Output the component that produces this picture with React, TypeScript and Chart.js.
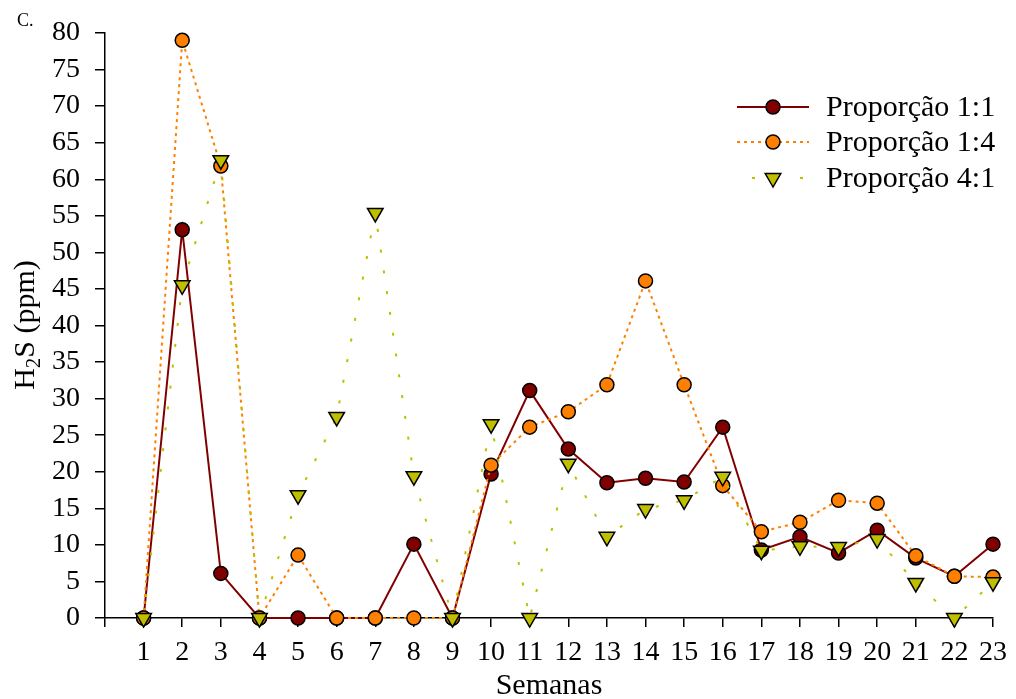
import React, { useEffect, useRef } from "react";
import { Chart, registerables } from "chart.js";

Chart.register(...registerables);

const weeks = [1, 2, 3, 4, 5, 6, 7, 8, 9, 10, 11, 12, 13, 14, 15, 16, 17, 18, 19, 20, 21, 22, 23];
const prop11 = [0, 53.1, 6.1, 0, 0, 0, 0, 10.1, 0, 19.7, 31.1, 23.1, 18.5, 19.1, 18.6, 26.1, 9.3, 11.1, 8.9, 12.0, 8.2, 5.7, 10.1];
const prop14 = [0, 79.0, 61.8, 0, 8.6, 0, 0, 0, 0, 20.9, 26.1, 28.2, 31.9, 46.1, 31.9, 18.1, 11.8, 13.1, 16.1, 15.7, 8.5, 5.7, 5.6];
const prop41 = [0, 45.5, 62.6, 0, 16.8, 27.5, 55.4, 19.4, 0, 26.5, 0, 21.1, 11.1, 14.9, 16.1, 19.3, 9.2, 9.8, 9.7, 10.8, 4.8, 0, 4.9];
const legendLabels = ["Proporção 1:1", "Proporção 1:4", "Proporção 4:1"];
const yTicks = [0, 80, 5];

const RED = "#800000";
const ORANGE = "#ff8000";
const OLIVE = "#bfbf00";
const SERIF = "'Liberation Serif', 'Times New Roman', serif";

const toPts = (vals: number[]) => weeks.map((w, i) => ({ x: w, y: vals[i] }));

function drawCircle(ctx: CanvasRenderingContext2D, x: number, y: number, fill: string) {
  ctx.beginPath();
  ctx.arc(x, y, 7, 0, Math.PI * 2);
  ctx.fillStyle = fill;
  ctx.fill();
  ctx.lineWidth = 1.5;
  ctx.strokeStyle = "#000";
  ctx.stroke();
}

function drawTri(ctx: CanvasRenderingContext2D, x: number, y: number, fill: string) {
  const r = 9;
  ctx.beginPath();
  ctx.moveTo(x, y + r);
  ctx.lineTo(x - r * 0.866, y - r / 2);
  ctx.lineTo(x + r * 0.866, y - r / 2);
  ctx.closePath();
  ctx.fillStyle = fill;
  ctx.fill();
  ctx.lineWidth = 1.5;
  ctx.strokeStyle = "#000";
  ctx.stroke();
}

const decorPlugin = {
  id: "decor",
  afterDraw(chart: any) {
    const ctx: CanvasRenderingContext2D = chart.ctx;
    const area = chart.chartArea;
    ctx.save();
    ctx.fillStyle = "#000";
    // panel label
    ctx.font = `18px ${SERIF}`;
    ctx.textAlign = "left";
    ctx.textBaseline = "alphabetic";
    ctx.fillText("C.", 17, 26);

    // x title
    ctx.font = `30px ${SERIF}`;
    ctx.textAlign = "center";
    ctx.fillText("Semanas", (area.left + area.right) / 2, 694);

    // y title with subscript
    ctx.save();
    ctx.translate(34, 325);
    ctx.rotate(-Math.PI / 2);
    ctx.textAlign = "left";
    const big = `30px ${SERIF}`;
    const small = `21px ${SERIF}`;
    ctx.font = big;
    const wH = ctx.measureText("H").width;
    const wRest = ctx.measureText("S (ppm)").width;
    ctx.font = small;
    const w2 = ctx.measureText("2").width;
    const total = wH + w2 + wRest;
    let cx = -total / 2;
    ctx.font = big;
    ctx.fillText("H", cx, 0);
    cx += wH;
    ctx.font = small;
    ctx.fillText("2", cx, 6);
    cx += w2;
    ctx.font = big;
    ctx.fillText("S (ppm)", cx, 0);
    ctx.restore();

    // legend
    const rows = [107, 142, 178];
    const x0 = 737, x1 = 809, mx = 773;
    ctx.strokeStyle = RED;
    ctx.lineWidth = 2;
    ctx.setLineDash([]);
    ctx.beginPath();
    ctx.moveTo(x0, rows[0]);
    ctx.lineTo(x1, rows[0]);
    ctx.stroke();
    drawCircle(ctx, mx, rows[0], RED);

    ctx.strokeStyle = ORANGE;
    ctx.lineWidth = 2;
    ctx.setLineDash([3, 4]);
    ctx.beginPath();
    ctx.moveTo(x0, rows[1]);
    ctx.lineTo(x1, rows[1]);
    ctx.stroke();
    ctx.setLineDash([]);
    drawCircle(ctx, mx, rows[1], ORANGE);

    ctx.fillStyle = OLIVE;
    ctx.fillRect(752, rows[2] - 1, 3, 2);
    ctx.fillRect(800, rows[2] - 1, 3, 2);
    drawTri(ctx, mx, rows[2], OLIVE);

    ctx.fillStyle = "#000";
    ctx.font = `30px ${SERIF}`;
    ctx.textAlign = "left";
    ctx.textBaseline = "middle";
    legendLabels.forEach((t, i) => ctx.fillText(t, 826, rows[i] + 1));
    ctx.restore();
  },
};

export default function App() {
  const ref = useRef<HTMLCanvasElement | null>(null);
  useEffect(() => {
    if (!ref.current) return;
    const tickFont = { family: SERIF, size: 28 };
    const chart = new Chart(ref.current, {
      type: "line",
      data: {
        datasets: [
          {
            label: legendLabels[0],
            data: toPts(prop11),
            borderColor: RED,
            backgroundColor: RED,
            borderWidth: 2,
            pointRadius: 7,
            pointBorderWidth: 1.5,
            pointBorderColor: "#000",
            pointBackgroundColor: RED,
            tension: 0,
            clip: false as any,
            order: 3,
          },
          {
            label: legendLabels[1],
            data: toPts(prop14),
            borderColor: ORANGE,
            backgroundColor: ORANGE,
            borderWidth: 2,
            borderDash: [3, 4],
            pointRadius: 7,
            pointBorderWidth: 1.5,
            pointBorderColor: "#000",
            pointBackgroundColor: ORANGE,
            tension: 0,
            clip: false as any,
            order: 2,
          },
          {
            label: legendLabels[2],
            data: toPts(prop41),
            borderColor: OLIVE,
            backgroundColor: OLIVE,
            borderWidth: 2,
            borderDash: [3, 18],
            pointStyle: "triangle",
            rotation: 180,
            pointRadius: 9,
            pointBorderWidth: 1.5,
            pointBorderColor: "#000",
            pointBackgroundColor: OLIVE,
            tension: 0,
            clip: false as any,
            order: 1,
          },
        ],
      },
      options: {
        responsive: false,
        animation: false,
        devicePixelRatio: 1,
        layout: { padding: { top: 33, right: 20, left: 0, bottom: 0 } },
        plugins: { legend: { display: false }, tooltip: { enabled: false } },
        scales: {
          x: {
            type: "linear",
            min: 0,
            max: 23,
            afterFit: (s: any) => {
              s.height = 81;
            },
            ticks: {
              stepSize: 1,
              autoSkip: false,
              maxRotation: 0,
              color: "#000",
              font: tickFont,
              padding: 9,
              callback: (v: any) => (v === 0 ? "" : String(v)),
            },
            grid: { drawOnChartArea: false, drawTicks: true, tickLength: 9, color: "#000", lineWidth: 1.5 },
            border: { display: true, color: "#000", width: 1.5 },
          },
          y: {
            min: yTicks[0],
            max: yTicks[1],
            afterFit: (s: any) => {
              s.width = 105;
            },
            ticks: {
              stepSize: yTicks[2],
              autoSkip: false,
              color: "#000",
              font: tickFont,
              padding: 15,
            },
            grid: { drawOnChartArea: false, drawTicks: true, tickLength: 10, color: "#000", lineWidth: 1.5 },
            border: { display: true, color: "#000", width: 1.5 },
          },
        },
      },
      plugins: [decorPlugin],
    });
    return () => chart.destroy();
  }, []);
  return (
    <div style={{ position: "absolute", left: 0, top: 0, width: 1016, height: 699, background: "#fff" }}>
      <canvas ref={ref} width={1016} height={699} />
    </div>
  );
}
